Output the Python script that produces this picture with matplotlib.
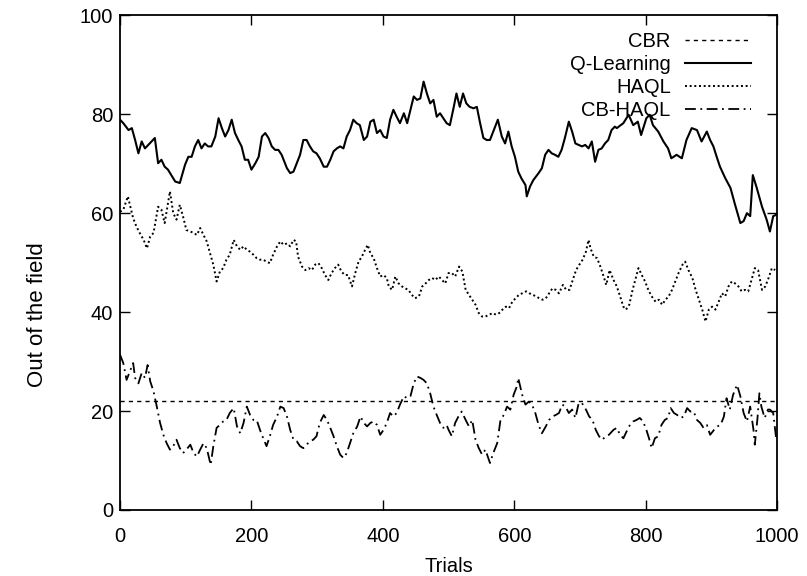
import matplotlib
matplotlib.use("Agg")
import matplotlib.pyplot as plt

plt.rcParams['font.family'] = ['Liberation Sans', 'DejaVu Sans']

# ---- data ----
cbr_trials = [0, 1000]
cbr = [22, 22]

q_trials = [0,5,13,18,23,28,33,38,43,48,53,58,63,68,73,78,84,91,99,104,109,114,119,124,129,134,139,145,150,155,160,165,170,175,180,185,190,195,200,206,211,216,221,226,231,236,241,246,
            254,259,264,269,274,279,284,289,294,299,304,310,315,320,325,330,335,340,345,350,355,360,365,371,376,381,386,391,396,401,406,411,416,421,426,432,437,442,447,452,457,462,467,472,477,482,487,492,497,
            502,507,512,517,522,527,532,538,543,548,553,558,563,568,575,581,586,591,596,601,606,611,617,619,624,629,637,642,647,652,657,662,667,672,677,683,688,693,698,703,708,713,718,723,728,733,738,743,748,753,
            756,766,774,781,788,793,801,806,811,819,827,834,839,847,855,862,870,878,885,893,898,903,908,913,921,929,936,944,949,954,959,963,969,977,984,989,994,999]
q_learning = [78.9,78.2,76.8,77.2,74.8,72.1,74.5,73.1,73.8,74.5,75.2,70.1,70.8,69.4,68.8,67.7,66.4,66.1,69.8,71.4,71.4,73.5,74.8,73.1,74.1,73.5,73.5,75.5,79.2,77.2,75.5,76.8,78.9,76.2,74.8,73.5,70.8,70.8,68.8,70.1,71.4,75.5,76.2,75.2,73.5,72.8,72.8,71.8,
              69.1,68.1,68.4,70.1,71.8,74.8,74.8,73.5,72.5,72.1,71.1,69.4,69.4,70.8,72.5,73.1,73.5,73.1,75.5,76.8,78.9,78.2,77.8,74.8,75.5,78.5,78.9,76.2,76.8,75.5,75.2,78.9,80.9,79.5,78.2,80.2,78.2,80.9,83.6,82.9,83.2,86.6,84.2,82.2,82.9,79.5,80.2,79.2,78.2,
              77.8,80.9,84.2,81.5,84.2,82.2,81.5,81.2,81.5,78.2,75.2,74.8,74.8,76.5,78.9,75.5,74.1,76.5,73.5,71.4,68.4,67.0,65.7,63.4,65.4,66.7,68.1,69.1,71.8,72.8,72.1,71.8,71.4,72.8,75.2,78.5,76.5,74.1,73.8,73.5,73.8,73.1,74.5,70.4,72.8,73.1,74.1,74.8,76.8,77.5,
              77.2,78.2,79.9,77.8,78.5,75.8,79.2,79.9,77.8,76.5,74.5,73.1,71.1,71.8,71.1,74.8,77.2,76.8,74.5,76.5,74.8,73.5,71.4,69.4,67.1,65.1,61.7,58.0,58.4,60.0,59.4,67.7,65.1,61.3,58.7,56.3,59.4,59.7]

haql_trials = [0,5,12,15,20,25,30,36,41,46,51,58,63,68,73,76,81,86,91,96,101,107,112,117,122,127,132,137,142,147,152,157,162,167,173,178,183,188,193,198,203,208,213,218,223,228,233,239,
               244,249,254,259,264,268,271,277,282,287,292,297,302,307,312,317,322,327,332,337,342,347,353,358,363,368,373,377,381,386,391,396,401,406,409,414,419,424,429,434,439,444,449,455,460,465,470,475,480,485,490,495,
               500,505,510,516,521,526,531,536,541,546,551,556,562,567,572,577,582,587,592,597,602,607,612,618,623,628,633,638,643,648,653,658,663,668,674,679,684,689,694,699,704,709,713,716,721,726,731,736,740,745,
               751,756,761,766,770,775,780,785,789,794,799,804,809,815,820,825,830,835,840,845,850,856,860,865,871,876,881,886,891,896,901,906,911,916,921,926,931,936,941,946,951,956,961,966,971,977,982,987,992,997]
haql = [60.3,60.7,63.4,61.7,59.0,57.3,56.0,54.6,52.9,55.3,56.0,61.3,60.7,58.0,62.0,64.4,60.0,58.7,61.7,59.3,56.6,56.3,56.0,55.6,57.0,55.6,54.3,51.9,49.6,46.2,48.2,48.9,50.6,51.6,54.6,53.3,52.6,53.3,52.6,52.2,51.6,50.9,50.6,50.6,50.2,49.9,51.6,53.3,
        54.3,53.6,53.9,53.3,54.6,54.3,51.2,49.2,48.5,48.9,48.5,49.6,49.9,48.9,47.5,46.5,47.9,48.9,49.6,48.2,47.5,47.5,45.2,47.9,50.2,51.2,52.6,53.6,51.9,50.9,48.9,47.2,47.5,46.9,45.2,44.5,47.2,45.8,45.2,44.8,44.5,43.5,42.8,43.2,45.2,45.8,46.5,46.9,46.5,47.2,46.5,45.8,
        47.9,47.9,47.2,49.2,48.2,44.5,43.5,42.5,41.5,39.8,39.1,39.1,39.5,39.8,39.5,39.8,40.5,41.1,40.8,42.1,42.8,43.5,43.8,44.2,43.8,43.5,43.2,42.8,42.5,42.8,43.8,44.8,44.5,43.8,45.5,44.5,44.5,46.5,48.5,49.6,50.6,52.2,54.6,52.9,51.2,50.9,49.2,47.2,45.5,48.5,
        46.5,45.2,43.2,41.1,40.5,41.5,44.5,46.9,48.9,47.5,46.2,44.5,43.2,42.1,42.5,41.5,42.5,43.2,44.5,46.2,47.9,49.6,50.2,48.5,46.9,44.5,42.5,40.5,38.1,40.5,41.1,40.5,42.1,43.8,43.2,45.2,46.2,45.8,45.2,44.2,44.5,44.2,46.5,48.9,48.5,44.5,45.2,46.9,48.9,48.5]

cbhaql_trials = [0,5,10,15,20,23,28,33,38,42,46,51,56,61,66,71,76,81,86,91,96,101,107,112,117,122,127,132,138,142,147,152,157,162,167,173,178,183,188,193,198,203,208,213,218,223,228,233,239,244,
                 249,254,259,264,269,274,279,284,289,294,299,304,310,315,320,325,330,335,340,345,350,355,361,366,371,376,381,386,391,396,401,406,411,416,421,426,432,437,442,447,452,457,462,467,472,477,482,487,492,497,
                 500,505,510,515,520,526,531,536,541,546,551,556,563,568,574,579,584,589,594,599,604,606,612,617,622,627,632,637,642,648,653,658,663,668,673,678,683,688,693,698,703,709,714,719,724,729,734,739,744,
                 751,756,761,766,771,776,781,786,791,796,801,805,809,814,819,824,829,834,838,843,848,853,858,863,868,873,878,883,888,893,898,904,909,914,919,923,928,933,939,944,949,954,959,964,966,970,973,976,981,986,989,994,999]
cb_haql = [31.4,29.7,26.3,28.0,29.7,26.7,25.6,27.7,26.7,29.3,26.0,24.0,20.9,17.6,15.2,13.5,12.2,12.9,14.2,12.5,11.5,12.2,13.2,11.5,10.8,12.2,13.5,12.5,9.1,12.9,16.6,17.2,17.9,18.2,19.6,20.6,16.9,15.5,17.6,20.9,19.2,18.2,18.2,16.2,14.5,12.9,14.9,17.2,18.9,20.9,
           20.6,18.9,16.2,14.2,13.9,12.9,12.5,13.2,13.9,14.2,14.9,17.6,19.2,18.2,16.6,14.9,12.9,11.2,10.5,11.5,13.5,15.5,16.9,18.9,17.6,16.9,17.6,17.9,17.2,15.2,16.2,17.6,19.6,18.9,19.6,21.3,23.0,22.6,23.0,25.6,27.0,26.7,26.3,25.6,23.6,20.9,19.2,17.6,16.6,17.2,
           16.2,14.9,17.6,18.9,19.9,18.2,16.9,18.2,14.2,12.5,11.2,12.2,9.5,11.5,13.5,18.2,19.2,20.9,20.3,23.3,25.0,26.7,23.3,21.3,21.9,21.3,19.6,17.2,15.5,16.9,18.2,18.9,19.2,19.6,21.3,20.9,19.6,20.3,18.6,21.6,21.6,20.3,18.9,18.2,16.2,14.9,14.2,14.9,15.2,
           16.2,16.6,15.2,14.5,15.9,17.2,17.9,18.2,18.6,17.9,16.2,14.5,12.5,14.5,14.9,17.2,18.2,18.6,20.6,19.6,19.2,18.6,18.9,20.6,19.9,19.9,18.2,17.6,16.6,17.2,15.2,16.2,16.9,17.2,18.9,22.6,20.3,23.3,25.3,23.0,19.6,17.9,20.9,16.2,13.2,18.4,23.6,20.9,18.6,20.3,20.3,19.6,13.9]

x_ticks = [0, 200, 400, 600, 800, 1000]
y_ticks = [0, 20, 40, 60, 80, 100]

# ---- figure ----
fig = plt.figure(figsize=(8.07, 5.76), dpi=100)
ax = fig.add_axes([0.1487, 0.1146, 0.8143, 0.8588])

ax.plot(cbr_trials, cbr, color='black', lw=1.0, dashes=(3, 3), label='CBR')
ax.plot(q_trials, q_learning, color='black', lw=1.5, linestyle='-', label='Q-Learning')
ax.plot(haql_trials, haql, color='black', lw=1.4, dashes=(1, 1.4), label='HAQL')
ax.plot(cbhaql_trials, cb_haql, color='black', lw=1.3, dashes=(6, 2.5, 1, 2.5), label='CB-HAQL')

ax.set_xlim(0, 1000)
ax.set_ylim(0, 100)
ax.set_xticks(x_ticks)
ax.set_yticks(y_ticks)
ax.tick_params(direction='in', length=7, width=1, top=True, right=True,
               labelsize=14.5)
ax.tick_params(axis='x', pad=12)
ax.tick_params(axis='y', pad=5)
for s in ax.spines.values():
    s.set_linewidth(1.3)

ax.set_xlabel('Trials', fontsize=14.5, labelpad=8)
ax.set_ylabel('Out of the field', fontsize=16)
ax.yaxis.set_label_coords(-0.11, 0.394)

leg = ax.legend(loc='upper right', bbox_to_anchor=(0.982, 0.994),
                frameon=False, markerfirst=False,
                fontsize=14.5, handlelength=3.3, handletextpad=0.7,
                labelspacing=0.2, borderaxespad=0.3)

fig.savefig('out.png', dpi=100)
